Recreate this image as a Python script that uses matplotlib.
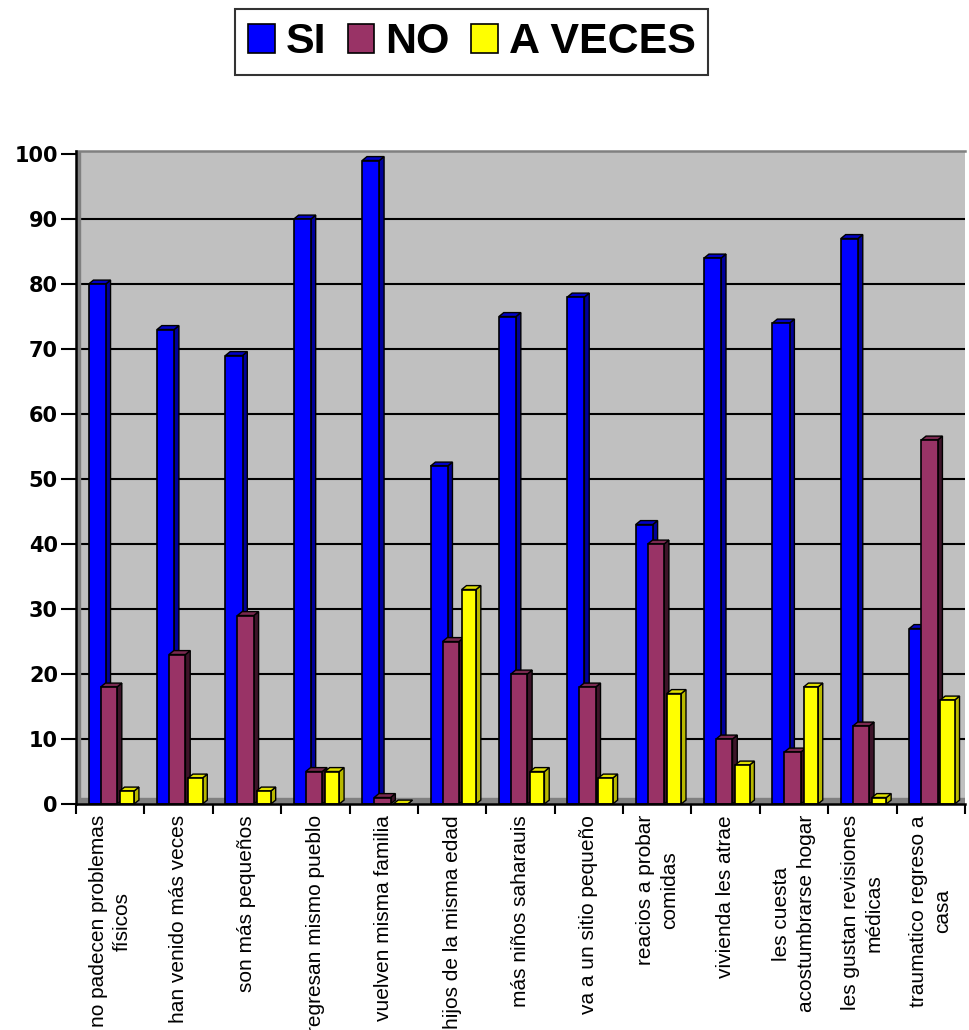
import numpy as np
import matplotlib
matplotlib.use('Agg')
import matplotlib.pyplot as plt
from matplotlib.patches import Patch

# Datos
categorias = ["no padecen problemas\nfísicos", "han venido más veces", "son más pequeños",
              "regresan mismo pueblo", "vuelven misma familia", "hijos de la misma edad",
              "más niños saharauis", "va a un sitio pequeño", "reacios a probar\ncomidas",
              "vivienda les atrae", "les cuesta\nacostumbrarse hogar",
              "les gustan revisiones\nmédicas", "traumatico regreso a\ncasa"]
si = [80, 73, 69, 90, 99, 52, 75, 78, 43, 84, 74, 87, 27]
no = [18, 23, 29, 5, 1, 25, 20, 18, 40, 10, 8, 12, 56]
a_veces = [2, 4, 2, 5, 0, 33, 5, 4, 17, 6, 18, 1, 16]
series = ["SI", "NO", "A VECES"]
y_ticks = list(range(0, 101, 10))

# colores: frente, lado, tapa
colores = [("#0000FF", "#00009A", "#0000C8"),
           ("#993366", "#3D1429", "#7A2950"),
           ("#FFFF00", "#B8B800", "#E0E000")]
desplaz = [-0.19, -0.02, 0.245]
anchos = [0.25, 0.24, 0.21]
dx, dy = 0.07, 0.6

fig = plt.figure(figsize=(9.69, 10.30), dpi=100)
ax = fig.add_axes([76 / 969, 1 - 804 / 1030, (965 - 76) / 969, (804 - 150.75) / 1030])
ax.set_facecolor("#C0C0C0")

x = np.arange(len(categorias))
ax.set_xlim(-0.5, len(categorias) - 0.5)
ax.set_ylim(0, 100.5)

# rejilla
for v in y_ticks[1:-1]:
    ax.axhline(v, color="black", lw=1.5, zorder=1)
# suelo y pared izquierda
ax.axhspan(0, 0.9, color="#808080", zorder=1.5)
ax.axvspan(-0.5, -0.44, color="#808080", zorder=1.5)


def barra3d(ax, xc, w, h, c_frente, c_lado, c_tapa, z):
    x0, x1 = xc - w / 2, xc + w / 2
    ax.fill([x1, x1 + dx, x1 + dx, x1], [0, dy, h + dy, h], color=c_lado,
            ec="black", lw=1.0, zorder=z)
    ax.fill([x0, x1, x1 + dx, x0 + dx], [h, h, h + dy, h + dy], color=c_tapa,
            ec="black", lw=1.0, zorder=z)
    ax.bar(xc, h, width=w, color=c_frente, edgecolor="black", lw=1.2, zorder=z)


for i, datos in enumerate([si, no, a_veces]):
    for j, h in enumerate(datos):
        barra3d(ax, x[j] + desplaz[i], anchos[i], h, *colores[i], z=3 + i)

# ejes
ax.set_yticks(y_ticks)
ax.set_yticklabels([str(v) for v in y_ticks], fontsize=15, fontweight="bold",
                   family="DejaVu Sans")
ax.tick_params(axis="y", length=11, width=1.5, pad=2)

ax.set_xticks(np.arange(-0.5, len(categorias)))
ax.set_xticklabels([])
ax.tick_params(axis="x", which="major", length=7.5, width=1.5)
ax.set_xticks(x, minor=True)
ax.set_xticklabels(categorias, minor=True, rotation=90, ha="center", va="top",
                   multialignment="center", fontsize=15, family="Liberation Sans",
                   linespacing=1.35)
ax.tick_params(axis="x", which="minor", length=0, pad=8)

for lado in ["left", "bottom"]:
    ax.spines[lado].set_linewidth(1.8)
    ax.spines[lado].set_zorder(10)
ax.spines["top"].set_color("#808080")
ax.spines["top"].set_linewidth(1.8)
ax.spines["right"].set_visible(False)

# leyenda
handles = [Patch(facecolor=c[0], edgecolor="black", lw=1.2) for c in colores]
leg = fig.legend(handles, series, loc="center", bbox_to_anchor=(0.487, 0.959), ncol=3,
                 frameon=True, fancybox=False, edgecolor="black",
                 prop={"family": "Liberation Sans", "weight": "bold", "size": 31},
                 handlelength=0.62, handleheight=0.66, handletextpad=0.25,
                 columnspacing=0.5, borderpad=0.3, borderaxespad=0)
leg.get_frame().set_linewidth(1.5)

fig.savefig("out.png", dpi=100)
